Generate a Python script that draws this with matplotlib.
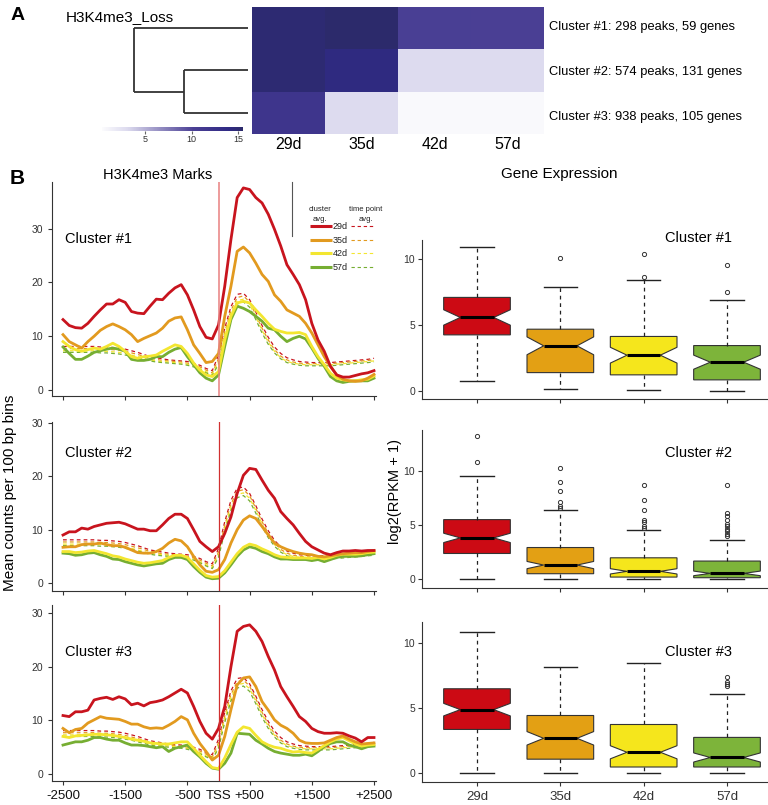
import numpy as np
import matplotlib
matplotlib.use('Agg')
import matplotlib.pyplot as plt
from matplotlib.colors import LinearSegmentedColormap, Normalize
from matplotlib.cm import ScalarMappable

plt.rcParams['font.family'] = ['Liberation Sans', 'DejaVu Sans']

W, H = 768, 805

# ---------------- panel A data ----------------
DAYS = ['29d', '35d', '42d', '57d']
ROW_LABELS = ['Cluster #1: 298 peaks, 59 genes',
              'Cluster #2: 574 peaks, 131 genes',
              'Cluster #3: 938 peaks, 105 genes']
HEAT = [[15.0, 15.4, 10.3, 10.2],
        [15.0, 14.2, 3.0, 3.0],
        [12.0, 3.0, 0.6, 0.6]]
DEND_H23 = 0.56   # merge height of cluster 2 + 3
DEND_ROOT = 1.0
N_GENES = [59, 131, 105]

# ---------------- panel B line data (100 bp bins, -2500..+2500) ----------------
POS = np.arange(-2500, 2501, 100)

C1_RED = [13.1, 12.0, 11.6, 11.5, 12.4, 13.7, 14.9, 16.0, 16.0, 16.8, 16.3, 14.6, 14.3, 14.2, 15.6,
          16.9, 16.8, 18.0, 19.0, 19.6, 17.7, 14.9, 11.8, 9.8, 9.5, 12.1, 19.3, 28.0, 35.8, 37.6,
          37.3, 35.8, 34.8, 32.7, 29.9, 26.8, 23.3, 21.5, 19.6, 16.8, 12.4, 9.3, 7.2, 4.4, 2.8,
          2.4, 2.4, 2.7, 3.0, 3.2, 3.6]
C1_ORANGE = [10.3, 9.0, 8.4, 7.8, 9.0, 10.0, 11.1, 11.8, 12.3, 11.8, 11.2, 10.3, 9.0, 9.6, 10.1,
             10.6, 11.5, 12.8, 13.4, 13.6, 11.2, 8.4, 6.8, 5.1, 5.3, 6.8, 13.7, 19.3, 25.8, 26.6,
             25.5, 23.6, 21.5, 20.2, 17.7, 16.5, 14.9, 14.3, 13.7, 12.4, 10.6, 8.4, 6.2, 4.4, 2.8,
             2.0, 1.7, 1.6, 1.7, 2.2, 2.9]
C1_YELLOW = [9.0, 8.1, 7.5, 7.2, 7.5, 7.8, 7.6, 8.1, 8.7, 8.1, 7.2, 6.2, 5.9, 6.2, 6.3,
             6.5, 7.2, 7.8, 8.4, 8.1, 6.8, 5.0, 3.7, 2.8, 2.5, 3.4, 9.3, 13.7, 16.2, 16.5,
             16.2, 14.9, 13.7, 12.4, 11.3, 10.9, 10.6, 10.6, 10.7, 10.3, 8.1, 6.2, 4.7, 3.1, 2.2,
             1.9, 1.7, 1.7, 1.9, 2.0, 2.6]
C1_GREEN = [8.0, 6.8, 5.7, 5.7, 6.3, 7.0, 7.3, 7.6, 7.8, 7.6, 7.2, 5.7, 5.5, 5.5, 5.7,
            6.2, 6.2, 7.0, 7.6, 7.9, 6.2, 4.7, 3.2, 2.2, 1.7, 2.8, 8.1, 13.1, 15.6, 15.2,
            14.6, 13.7, 12.8, 11.5, 11.2, 10.0, 9.0, 9.6, 10.0, 9.5, 7.8, 5.9, 4.4, 2.5, 1.7,
            1.4, 1.6, 1.7, 1.7, 1.7, 2.2]

C2_RED = [9.0, 9.6, 9.6, 10.3, 10.1, 10.6, 10.9, 11.2, 11.3, 11.4, 11.1, 10.6, 10.1, 10.1, 9.8,
          9.8, 10.9, 12.1, 12.9, 12.9, 12.1, 10.0, 7.8, 6.8, 5.9, 6.8, 9.3, 12.4, 16.8, 20.2,
          21.5, 21.3, 19.3, 17.4, 15.9, 13.4, 12.1, 10.9, 9.3, 7.8, 6.8, 6.2, 5.6, 5.3, 5.7,
          6.0, 6.0, 6.1, 6.0, 6.1, 6.1]
C2_ORANGE = [6.7, 6.8, 6.8, 7.2, 7.3, 7.3, 7.5, 7.2, 7.0, 7.0, 6.7, 6.2, 5.7, 5.6, 5.6,
             5.9, 6.5, 7.5, 8.2, 7.9, 6.8, 5.0, 3.4, 2.2, 2.0, 2.5, 4.4, 7.5, 10.0, 11.8,
             12.6, 12.1, 10.6, 9.0, 7.5, 6.8, 6.3, 5.9, 5.6, 5.4, 5.3, 5.0, 4.9, 5.1, 5.3,
             5.5, 5.6, 5.7, 5.7, 5.9, 6.1]
C2_YELLOW = [5.9, 5.9, 5.7, 5.8, 6.0, 6.1, 5.8, 5.5, 5.1, 4.9, 4.5, 4.2, 3.9, 3.7, 3.8,
             4.0, 4.2, 4.8, 5.2, 5.2, 4.8, 3.6, 2.4, 1.4, 1.1, 1.2, 2.3, 3.9, 5.5, 6.7,
             7.3, 7.0, 6.4, 5.9, 5.3, 4.9, 4.8, 4.7, 4.7, 4.7, 4.6, 4.8, 4.5, 4.8, 5.2,
             5.4, 5.4, 5.4, 5.5, 5.7, 5.8]
C2_GREEN = [5.6, 5.5, 5.2, 5.3, 5.6, 5.7, 5.3, 5.0, 4.5, 4.4, 4.0, 3.7, 3.4, 3.2, 3.4,
            3.6, 3.7, 4.4, 4.8, 4.8, 4.4, 3.1, 2.0, 1.1, 0.8, 0.9, 1.9, 3.4, 5.0, 6.2,
            6.8, 6.5, 5.9, 5.5, 4.9, 4.5, 4.5, 4.4, 4.4, 4.4, 4.2, 4.4, 4.0, 4.4, 4.8,
            5.0, 5.0, 5.0, 5.1, 5.3, 5.5]

C3_RED = [10.9, 10.7, 11.6, 11.6, 11.9, 13.8, 14.1, 14.3, 13.9, 14.4, 14.0, 12.9, 13.2, 12.7, 13.3,
          13.5, 13.8, 14.4, 15.1, 15.8, 15.1, 12.6, 9.8, 7.6, 6.5, 8.5, 12.6, 20.0, 26.6, 27.5,
          27.8, 26.6, 24.7, 21.9, 19.4, 16.3, 14.4, 12.6, 10.7, 9.8, 8.5, 7.9, 7.6, 7.6, 7.7,
          7.6, 7.1, 6.7, 6.0, 6.8, 6.8]
C3_ORANGE = [8.5, 7.7, 8.3, 8.5, 9.5, 10.1, 10.7, 10.4, 10.3, 10.2, 9.8, 9.3, 9.3, 8.8, 8.5,
             8.6, 8.5, 9.1, 9.8, 10.7, 10.1, 7.6, 5.7, 4.2, 2.6, 3.5, 7.0, 12.0, 16.6, 17.9,
             18.1, 16.3, 13.5, 11.9, 10.1, 9.1, 8.5, 7.6, 6.3, 5.8, 5.7, 5.7, 5.8, 6.3, 6.8,
             7.1, 6.5, 6.0, 5.6, 5.7, 5.8]
C3_YELLOW = [7.0, 6.8, 7.1, 7.2, 7.3, 7.4, 7.4, 7.3, 7.2, 7.0, 6.8, 6.5, 6.3, 6.1, 5.8,
             5.7, 5.6, 5.6, 5.8, 6.0, 6.0, 4.8, 3.5, 2.3, 1.2, 1.0, 3.0, 5.5, 7.8, 8.8,
             8.5, 7.2, 6.0, 5.4, 5.0, 4.8, 4.4, 4.1, 4.2, 4.0, 3.9, 4.6, 5.3, 6.0, 6.5,
             6.8, 6.2, 5.6, 5.2, 5.4, 5.5]
C3_GREEN = [5.4, 5.7, 6.0, 6.0, 6.3, 6.8, 6.8, 6.5, 6.3, 6.3, 5.8, 5.4, 5.4, 5.3, 5.1,
            4.9, 5.1, 4.2, 4.8, 5.1, 5.4, 4.2, 3.2, 2.0, 1.1, 0.9, 2.0, 3.9, 7.6, 7.5,
            7.4, 6.3, 5.6, 4.8, 4.2, 3.9, 3.7, 3.5, 3.5, 3.7, 3.4, 4.2, 5.1, 5.7, 6.0,
            6.0, 5.4, 5.1, 4.7, 5.1, 5.2]

# time point average (same in all three panels)
TP_RED = [8.1, 8.1, 8.1, 8.1, 8.1, 8.1, 8.0, 8.0, 7.9, 7.8, 7.6, 7.3, 7.0, 6.6, 6.2,
          6.0, 5.8, 5.6, 5.5, 5.4, 5.3, 5.0, 4.6, 4.0, 3.6, 6.5, 11.5, 15.5, 17.8, 18.0,
          16.8, 14.5, 12.0, 9.8, 8.0, 6.8, 6.0, 5.6, 5.3, 5.2, 5.1, 5.1, 5.1, 5.1, 5.2,
          5.3, 5.4, 5.5, 5.6, 5.7, 5.9]
TP_ORANGE = [7.7, 7.7, 7.7, 7.7, 7.7, 7.7, 7.6, 7.6, 7.5, 7.4, 7.2, 6.9, 6.6, 6.3, 5.9,
             5.7, 5.5, 5.4, 5.3, 5.2, 5.0, 4.7, 4.3, 3.7, 3.2, 5.8, 10.8, 14.8, 17.2, 17.5,
             16.4, 14.0, 11.5, 9.3, 7.5, 6.3, 5.6, 5.2, 5.0, 4.9, 4.9, 4.9, 4.9, 4.9, 5.0,
             5.1, 5.2, 5.3, 5.4, 5.5, 5.6]
TP_YELLOW = [7.3, 7.3, 7.3, 7.3, 7.3, 7.3, 7.2, 7.2, 7.1, 7.0, 6.8, 6.5, 6.2, 5.9, 5.6,
             5.4, 5.3, 5.2, 5.1, 5.0, 4.8, 4.5, 4.0, 3.4, 2.9, 5.2, 10.2, 14.2, 16.6, 16.9,
             15.9, 13.6, 11.1, 8.9, 7.2, 6.0, 5.3, 5.0, 4.8, 4.7, 4.7, 4.7, 4.7, 4.7, 4.8,
             4.9, 5.0, 5.1, 5.2, 5.3, 5.4]
TP_GREEN = [7.0, 7.0, 7.0, 7.0, 7.0, 7.0, 6.9, 6.9, 6.8, 6.7, 6.5, 6.3, 6.0, 5.7, 5.4,
            5.2, 5.1, 5.0, 4.9, 4.8, 4.6, 4.3, 3.8, 3.2, 2.7, 4.8, 9.6, 13.6, 16.0, 16.4,
            15.4, 13.1, 10.6, 8.5, 6.9, 5.8, 5.1, 4.8, 4.6, 4.5, 4.5, 4.5, 4.5, 4.5, 4.6,
            4.7, 4.8, 4.9, 5.0, 5.1, 5.2]

CLUSTER_LINES = [[C1_RED, C1_ORANGE, C1_YELLOW, C1_GREEN],
                 [C2_RED, C2_ORANGE, C2_YELLOW, C2_GREEN],
                 [C3_RED, C3_ORANGE, C3_YELLOW, C3_GREEN]]
TP_LINES = [TP_RED, TP_ORANGE, TP_YELLOW, TP_GREEN]

# ---------------- gene expression boxes: (low whisker, q1, median, q3, high whisker) ----------------
BOX_C1 = [(0.76, 4.25, 5.57, 7.09, 10.89), (0.18, 1.39, 3.42, 4.68, 7.85),
          (0.08, 1.22, 2.71, 4.13, 8.43), (0.0, 0.84, 2.18, 3.44, 6.91)]
OUT_C1 = [[], [10.08], [8.63, 10.41], [7.47, 9.54]]
BOX_C2 = [(0.0, 2.39, 3.83, 5.52, 9.57), (0.0, 0.52, 1.32, 2.94, 6.44),
          (0.0, 0.21, 0.74, 1.99, 4.60), (0.0, 0.15, 0.55, 1.69, 3.68)]
OUT_C2 = [[10.8, 13.2],
          [6.6, 6.75, 7.15, 8.19, 8.96, 10.28],
          [4.72, 4.9, 5.28, 5.46, 6.44, 7.3, 8.68],
          [4.05, 4.23, 4.45, 4.69, 4.9, 5.12, 5.52, 5.89, 6.13, 8.68]]
BOX_C3 = [(0.0, 3.34, 4.86, 6.46, 10.84), (0.0, 1.06, 2.66, 4.41, 8.15),
          (0.0, 0.46, 1.59, 3.72, 8.41), (0.0, 0.46, 1.19, 2.73, 6.08)]
OUT_C3 = [[], [], [], [6.66, 6.84, 7.01, 7.39]]

LINE_COLORS = ['#c8141e', '#e29a1f', '#f3e630', '#76ae32']
BOX_COLORS = ['#cc0a14', '#e3a014', '#f5e61c', '#7db43a']
AX_COLOR = '#333333'

fig = plt.figure(figsize=(W / 100, H / 100), dpi=100)


def px_axes(l, t, r, b):
    return fig.add_axes([l / W, 1 - b / H, (r - l) / W, (b - t) / H])


def ftext(x, y, s, **kw):
    fig.text(x / W, 1 - y / H, s, **kw)


# ---------------- panel A ----------------
cmap = LinearSegmentedColormap.from_list(
    'lossmap', [(0, '#fbfbfd'), (0.18, '#dcdaee'), (0.65, '#4a3f94'), (0.9, '#302a84'), (1, '#2c2a6a')])
norm = Normalize(vmin=0.4, vmax=15.5)

ax_hm = px_axes(252, 7, 544, 134)
ax_hm.pcolormesh(np.arange(5), np.arange(4), np.array(HEAT), cmap=cmap, norm=norm)
ax_hm.set_ylim(3, 0)
for s in ax_hm.spines.values():
    s.set_visible(False)
ax_hm.set_xticks(np.arange(4) + 0.5, DAYS)
ax_hm.set_yticks([])
ax_hm.tick_params(axis='x', length=0, labelsize=11.5, pad=2)
for y, lab in zip([27, 72, 117], ROW_LABELS):
    ftext(549, y, lab, fontsize=9.3, va='center', ha='left')

ax_d = px_axes(130, 7, 252, 134)
ax_d.axis('off')
ax_d.set_xlim(1.035, -0.035)
ax_d.set_ylim(3, 0)
dk = dict(color='#333333', lw=1.3, solid_capstyle='butt')
ax_d.plot([0, DEND_ROOT], [0.5, 0.5], **dk)
ax_d.plot([0, DEND_H23], [1.5, 1.5], **dk)
ax_d.plot([0, DEND_H23], [2.5, 2.5], **dk)
ax_d.plot([DEND_H23, DEND_H23], [1.5, 2.5], **dk)
ax_d.plot([DEND_H23, DEND_ROOT], [2.0, 2.0], **dk)
ax_d.plot([DEND_ROOT, DEND_ROOT], [0.5, 2.0], **dk)

cax = px_axes(102, 127, 243, 131)
cb = fig.colorbar(ScalarMappable(norm=norm, cmap=cmap), cax=cax, orientation='horizontal', ticks=[5, 10, 15])
cb.outline.set_visible(False)
cax.tick_params(labelsize=6.5, length=2, color='#666666', labelcolor='#333333', pad=1)

ftext(18, 15, 'A', fontsize=14, fontweight='bold', va='center', ha='center')
ftext(66, 17, 'H3K4me3_Loss', fontsize=11, va='center', ha='left')

# ---------------- panel B: H3K4me3 marks ----------------
LINE_BOXES = [(52, 182, 376, 396, (-1.12, 38.7), 239),
              (52, 422, 376, 591, (-1.5, 30.2), 453),
              (52, 605, 376, 781, (-1.3, 31.5), 652)]
for i, (l, t, r, b, ylim, lab_y) in enumerate(LINE_BOXES):
    ax = px_axes(l, t, r, b)
    for j in range(4):
        ax.plot(POS, TP_LINES[j], color=LINE_COLORS[j], lw=0.9, ls=(0, (3, 2.5)))
    for j in [3, 2, 1, 0]:
        ax.plot(POS, CLUSTER_LINES[i][j], color=LINE_COLORS[j], lw=2.0, solid_joinstyle='round')
    ax.axvline(0, color='#e88080' if i == 0 else '#d03030', lw=1.1 if i == 0 else 0.9)
    ax.set_xlim(-2677, 2532)
    ax.set_ylim(*ylim)
    ax.set_yticks([0, 10, 20, 30])
    for s in ['top', 'right']:
        ax.spines[s].set_visible(False)
    for s in ['left', 'bottom']:
        ax.spines[s].set_color(AX_COLOR)
        ax.spines[s].set_linewidth(0.8)
    ax.tick_params(colors=AX_COLOR, length=3, width=0.8, labelsize=7.5)
    if i == 2:
        ax.set_xticks([-2500, -1500, -500, 0, 500, 1500, 2500],
                      ['-2500', '-1500', '-500', 'TSS', '+500', '+1500', '+2500'])
        ax.xaxis.get_major_ticks()[3].tick1line.set_visible(False)
        ax.tick_params(axis='x', labelsize=9.5, labelcolor='#111111')
    else:
        ax.set_xticks([-2500, -1500, -500, 500, 1500, 2500])
        ax.set_xticklabels([])
    ftext(65, lab_y, 'Cluster #%d' % (i + 1), fontsize=10.5, va='center', ha='left')

ftext(17, 178, 'B', fontsize=15, fontweight='bold', va='center', ha='center')
ftext(158, 175, 'H3K4me3 Marks', fontsize=10.5, va='center', ha='center')
ftext(559, 174, 'Gene Expression', fontsize=11, va='center', ha='center')
ftext(10, 493, 'Mean counts per 100 bp bins', fontsize=11, rotation=90, va='center', ha='center')
ftext(395, 492, 'log2(RPKM + 1)', fontsize=10.5, rotation=90, va='center', ha='center')

# ---------------- panel B: gene expression boxplots ----------------
BOX_AXES = [(422, 240, 782, 399, (-0.61, 11.44), 238, BOX_C1, OUT_C1),
            (422, 430, 782, 588, (-0.80, 13.8), 453, BOX_C2, OUT_C2),
            (422, 622, 782, 782, (-0.69, 11.58), 652, BOX_C3, OUT_C3)]
for i, (l, t, r, b, ylim, lab_y, boxes, outs) in enumerate(BOX_AXES):
    ax = px_axes(l, t, r, b)
    stats = []
    for (lo, q1, med, q3, hi), fl in zip(boxes, outs):
        half = 1.58 * (q3 - q1) / np.sqrt(N_GENES[i])
        stats.append(dict(whislo=lo, q1=q1, med=med, q3=q3, whishi=hi, fliers=fl,
                          cilo=med - half, cihi=med + half))
    bp = ax.bxp(stats, positions=[1, 2, 3, 4], widths=0.8, capwidths=0.4,
                shownotches=True, patch_artist=True,
                boxprops=dict(edgecolor='#333333', linewidth=0.8),
                whiskerprops=dict(color='#222222', linewidth=0.9, linestyle=(0, (3, 3))),
                capprops=dict(color='#222222', linewidth=1.0),
                medianprops=dict(color='black', linewidth=2.2),
                flierprops=dict(marker='o', markersize=3, markerfacecolor='none',
                                markeredgecolor='#333333', markeredgewidth=0.7))
    for patch, c in zip(bp['boxes'], BOX_COLORS):
        patch.set_facecolor(c)
    ax.set_xlim(0.34, 4.66)
    ax.set_ylim(*ylim)
    ax.set_yticks([0, 5, 10])
    ax.set_xticks([1, 2, 3, 4])
    if i == 2:
        ax.set_xticklabels(DAYS)
        ax.tick_params(axis='x', labelsize=9.5, labelcolor='#111111')
    else:
        ax.set_xticklabels([])
    for s in ['top', 'right']:
        ax.spines[s].set_visible(False)
    for s in ['left', 'bottom']:
        ax.spines[s].set_color(AX_COLOR)
        ax.spines[s].set_linewidth(0.8)
    ax.tick_params(colors=AX_COLOR, length=3, width=0.8)
    ax.tick_params(axis='y', labelsize=7.5, pad=2)
    ftext(665, lab_y, 'Cluster #%d' % (i + 1), fontsize=10.5, va='center', ha='left')

# ---------------- legend of the top profile ----------------
ov = fig.add_axes([0, 0, 1, 1])
ov.set_xlim(0, W)
ov.set_ylim(H, 0)
ov.axis('off')
ov.patch.set_alpha(0)
ov.plot([292, 292], [182, 236], color='#555555', lw=0.8)
ov.text(320, 209, 'cluster', fontsize=5.5, ha='center', va='center', color='#222222')
ov.text(320, 219, 'avg.', fontsize=5.5, ha='center', va='center', color='#222222')
ov.text(366, 209, 'time point', fontsize=5.5, ha='center', va='center', color='#222222')
ov.text(366, 219, 'avg.', fontsize=5.5, ha='center', va='center', color='#222222')
for j, y in enumerate([226, 240, 253, 267]):
    ov.plot([310, 332], [y, y], color=LINE_COLORS[j], lw=2.2, solid_capstyle='butt')
    ov.plot([351, 373], [y, y], color=LINE_COLORS[j], lw=0.8, ls=(0, (3, 2.5)))
    ov.text(333, y, DAYS[j], fontsize=6.5, ha='left', va='center', color='#222222')

fig.savefig('out.png', dpi=100)
